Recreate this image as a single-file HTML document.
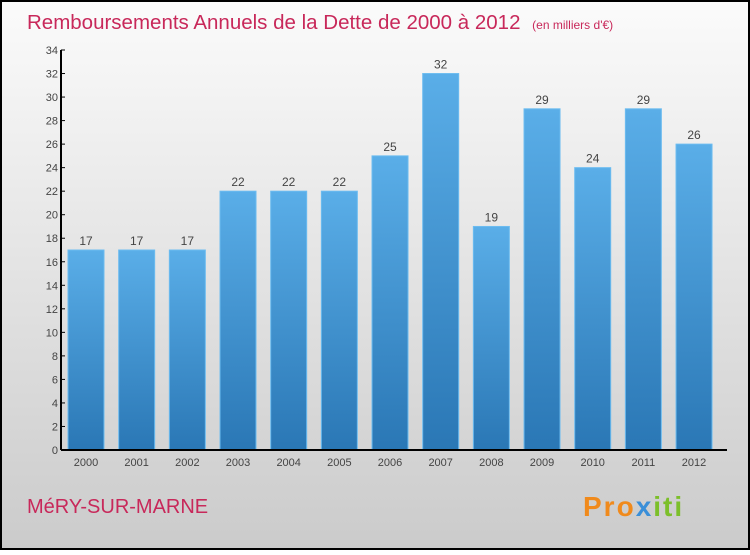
<!DOCTYPE html>
<html><head><meta charset="utf-8"><style>
html,body{margin:0;padding:0}
body{width:750px;height:550px;overflow:hidden;font-family:"Liberation Sans",sans-serif}
</style></head><body>
<svg id="chart" width="750" height="550" xmlns="http://www.w3.org/2000/svg">
<defs>
<linearGradient id="bg" x1="0" y1="0" x2="0" y2="1"><stop offset="0" stop-color="#fbfbfb"/><stop offset="1" stop-color="#cbcbcb"/></linearGradient>
<linearGradient id="bar" x1="0" y1="0" x2="0" y2="1"><stop offset="0" stop-color="#5aaee8"/><stop offset="1" stop-color="#2a77b5"/></linearGradient>
</defs>
<rect x="1" y="1" width="748" height="548" fill="url(#bg)" stroke="#000" stroke-width="2"/>
<text x="27" y="29" font-size="20.5" fill="#c8285a">Remboursements Annuels de la Dette de 2000 à 2012 <tspan font-size="12" dx="6">(en milliers d'€)</tspan></text>
<g id="bars"></g>
<g id="yaxis"></g>
<g id="xaxis"></g>
<text x="27" y="513" font-size="20" fill="#c8285a">MéRY-SUR-MARNE</text>
<text x="583" y="516" font-size="28" font-weight="bold" letter-spacing="2" fill="#f08a1c">Pro<tspan fill="#3a8fd8">x</tspan><tspan fill="#7cbf2a">iti</tspan></text>
</svg>
<script>
const categories=["2000","2001","2002","2003","2004","2005","2006","2007","2008","2009","2010","2011","2012"];
const values=[17,17,17,22,22,22,25,32,19,29,24,29,26];
const yTicks=[0,2,4,6,8,10,12,14,16,18,20,22,24,26,28,30,32,34];
const NS="http://www.w3.org/2000/svg";
const y0=450,yTop=50,yMax=34,x0=61,step=50.67,first=86,bw=36;
const yS=v=>y0-(y0-yTop)*v/yMax;
const xS=i=>first+i*step;
function mk(t,a,p){const e=document.createElementNS(NS,t);for(const k in a)e.setAttribute(k,a[k]);p.appendChild(e);return e;}
const bars=document.getElementById('bars'),ya=document.getElementById('yaxis'),xa=document.getElementById('xaxis');
values.forEach((v,i)=>{
 const r=mk('rect',{x:xS(i)-bw/2,y:yS(v),width:bw,height:y0-yS(v),fill:'url(#bar)',stroke:'#6cbcf0','stroke-width':1},bars);
 
 
 const t=mk('text',{x:xS(i),y:yS(v)-5,'text-anchor':'middle','font-size':12,fill:'#444'},bars);
 t.textContent=v;
 
 
 const xl=mk('text',{x:xS(i),y:466,'text-anchor':'middle','font-size':11,fill:'#444'},xa);
 xl.textContent=categories[i];
 
 
});
const yl=mk('line',{x1:x0,y1:yTop,x2:x0,y2:y0,stroke:'#000','stroke-width':2},ya);


const xl=mk('line',{x1:x0,y1:y0,x2:727,y2:y0,stroke:'#000','stroke-width':2},xa);


yTicks.forEach(v=>{
 mk('line',{x1:x0,y1:yS(v),x2:x0+4,y2:yS(v),stroke:'#000'},ya);
 const t=mk('text',{x:x0-3,y:yS(v)+4,'text-anchor':'end','font-size':11,fill:'#444'},ya);
 t.textContent=v;
 
 
});
</script>
</body></html>
